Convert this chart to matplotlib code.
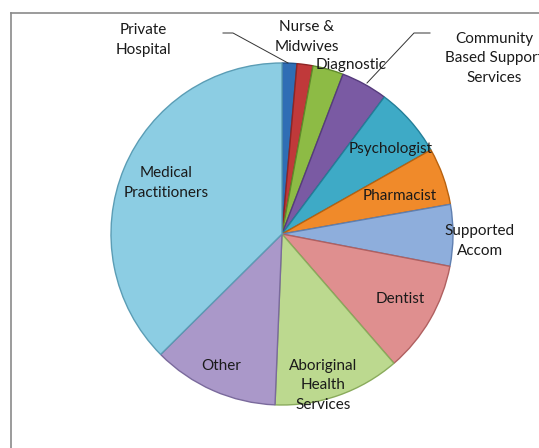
import matplotlib.pyplot as plt
from matplotlib.lines import Line2D

# share of referrals by service type, clockwise from 12 o'clock
services = ['Private Hospital', 'Nurse & Midwives', 'Diagnostic',
            'Community Based Support Services', 'Psychologist', 'Pharmacist',
            'Supported Accom', 'Dentist', 'Aboriginal Health Services',
            'Other', 'Medical Practitioners']
shares = [1.4, 1.5, 2.9, 4.4, 6.6, 5.4, 5.8, 10.6, 12.0, 11.9, 37.4]
colors = ['#2f6eb5', '#c0393a', '#8dbb45', '#7a5aa3', '#3eaac6', '#f08a2a',
          '#8eaedc', '#df8f8f', '#bcd98f', '#aa98c9', '#8ccde3']
edges = ['#1d4f8a', '#8e2525', '#5f8a2a', '#553b7c', '#237f99', '#b8620f',
         '#5f7fb0', '#b06060', '#8aab5c', '#7a6a9c', '#5b9db5']

W, H = 539, 448
fig = plt.figure(figsize=(W / 100, H / 100), dpi=100)
ax = fig.add_axes([0, 0, 1, 1])

def py(y):
    # pixel row from top -> data y
    return H - y

wedges, _ = ax.pie(shares, colors=colors, startangle=90, counterclock=False,
                   center=(282, py(234)), radius=171, frame=True,
                   wedgeprops=dict(linewidth=1.0))
for w, ec in zip(wedges, edges):
    w.set_edgecolor(ec)
ax.set_xlim(0, W)
ax.set_ylim(0, H)
ax.set_aspect('equal')
ax.axis('off')

# chart area border
ax.add_line(Line2D([11, 11], [py(13), -5], color='#8a8a8a', lw=1.2))
ax.add_line(Line2D([11, W + 5], [py(13), py(13)], color='#8a8a8a', lw=1.2))

font = dict(family=['Lato', 'DejaVu Sans'], fontsize=11, color='#1a1a1a',
            ha='center', va='center', linespacing=1.5, clip_on=False)
labels = {
    'Private\nHospital': (143, 40),
    'Nurse &\nMidwives': (307, 37),
    'Diagnostic': (351, 65),
    'Community\nBased Support\nServices': (494, 58),
    'Psychologist': (391, 149),
    'Pharmacist': (400, 196),
    'Supported\nAccom': (480, 241),
    'Dentist': (400, 299),
    'Aboriginal\nHealth\nServices': (323, 385),
    'Other': (221, 366),
    'Medical\nPractitioners': (166, 183),
}
for txt, (x, y) in labels.items():
    ax.text(x, py(y), txt, **font)

# leader lines
ax.plot([223, 233, 288], [py(33), py(33), py(63)], color='#333333', lw=0.7)
ax.plot([430, 414, 367], [py(33), py(33), py(83)], color='#333333', lw=0.7)

fig.savefig('out.png', dpi=100)
